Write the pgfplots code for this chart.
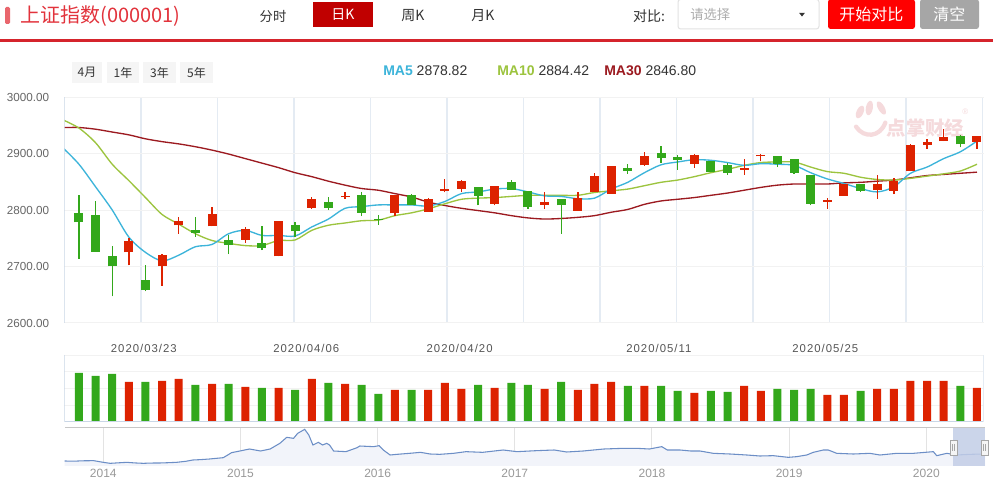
\documentclass[border=0pt]{standalone}
\usepackage{pgfplots}
\pgfplotsset{compat=1.18}
\usepackage{pgfplotstable}
\usepackage{fontspec}
\setmainfont{Liberation Sans}
\newfontfamily\cjk{Noto Sans CJK SC}
\newfontfamily\spaced[LetterSpace=9]{Liberation Sans}
\definecolor{kred}{HTML}{DD2200}
\definecolor{kgreen}{HTML}{33A81B}
\definecolor{maA}{HTML}{3CB4DA}
\definecolor{maB}{HTML}{9CC43E}
\definecolor{maC}{HTML}{9C1A20}
\definecolor{axblue}{HTML}{C9D6E6}
\definecolor{vgrid}{HTML}{E4EBF3}
\definecolor{hgrid}{HTML}{F2F2F2}
\definecolor{navline}{HTML}{6C8EC6}
\definecolor{navfill}{HTML}{F2F4FA}
\definecolor{navsel}{HTML}{C3CEE7}
\definecolor{titlered}{HTML}{E2333C}
\definecolor{linered}{HTML}{D5242C}
\definecolor{darkbtn}{HTML}{C00000}
\definecolor{brightbtn}{HTML}{FF0000}
\definecolor{graybtn}{HTML}{A6A6A6}
\definecolor{wm}{HTML}{F5DADC}
\definecolor{txt}{HTML}{333333}
\definecolor{gsix}{HTML}{666666}
\definecolor{gfive}{HTML}{555555}
\definecolor{gnine}{HTML}{999999}
\definecolor{gridgray}{HTML}{E3E3E3}

\pgfplotsset{candle/.style={draw=none, mark=none,
  error bars/y dir=plus, error bars/y explicit, error bars/error mark=none}}

% candles: i bodylow bodyhigh low high
\pgfplotstableread{
i lo hi low high
0 2778 2794 2714 2826
1 2726 2791 2726 2816
2 2700 2719 2647 2736
4 2658 2676 2656 2703
7 2760 2765 2753 2788
9 2738 2747 2722 2756
11 2732 2741 2729 2772
13 2762 2774 2753 2779
15 2804 2814 2800 2823
17 2795 2826 2789 2831
18 2782 2784 2774 2791
20 2809 2826 2809 2828
24 2825 2840 2808 2840
26 2836 2849 2836 2853
27 2806 2834 2802 2834
29 2808 2819 2758 2819
33 2869 2875 2864 2881
35 2892 2901 2884 2913
36 2889 2894 2871 2897
38 2868 2886 2868 2886
39 2866 2879 2862 2884
42 2881 2895 2876 2895
43 2866 2890 2864 2890
44 2811 2862 2808 2862
47 2834 2846 2832 2846
53 2916 2931 2911 2932
}\greenk
\pgfplotstableread{
i lo hi low high
3 2725 2745 2702 2750
5 2700 2721 2666 2722
6 2773 2781 2758 2788
8 2771 2793 2771 2805
10 2747 2766 2742 2770
12 2718 2781 2718 2781
14 2804 2819 2802 2823
16 2823 2825 2820 2831
19 2794 2826 2789 2826
21 2797 2819 2797 2822
22 2834 2837 2831 2855
23 2838 2851 2832 2853
25 2811 2842 2808 2842
28 2809 2814 2802 2831
30 2799 2821 2799 2831
31 2831 2860 2831 2865
32 2829 2878 2829 2878
34 2879 2895 2878 2902
37 2882 2897 2875 2899
40 2871 2874 2862 2890
41 2895 2897 2886 2899
45 2815 2818 2802 2822
46 2825 2846 2825 2846
48 2835 2846 2820 2862
49 2834 2852 2828 2856
50 2869 2915 2869 2916
51 2915 2920 2908 2925
52 2922 2929 2922 2943
54 2921 2931 2908 2931
}\redk
% volumes
\pgfplotstableread{
i v
0 147
1 138
2 144
4 120
7 111
9 114
11 102
13 96
15 117
17 111
18 84
20 96
24 111
26 117
27 111
29 120
33 108
35 108
36 93
38 93
39 90
42 99
43 96
44 99
47 93
53 108
}\greenv
\pgfplotstableread{
i v
3 120
5 123
6 129
8 114
10 105
12 102
14 129
16 114
19 96
21 96
22 117
23 99
25 102
28 99
30 96
31 114
32 120
34 108
37 87
40 108
41 93
45 81
46 81
48 99
49 99
50 123
51 123
52 123
54 102
}\redv
% navigator (year, index level)
\pgfplotstableread{
t v
2013.718 2231
2013.790 2215
2013.849 2250
2013.930 2262
2014.000 2106
2014.050 2013
2014.110 2060
2014.171 2106
2014.230 2050
2014.292 2013
2014.350 2040
2014.412 2044
2014.470 2070
2014.533 2106
2014.600 2200
2014.653 2325
2014.710 2360
2014.774 2418
2014.875 2543
2014.935 3011
2014.995 3167
2015.066 3354
2015.146 3167
2015.216 3354
2015.287 3885
2015.337 4446
2015.387 4353
2015.417 4821
2015.468 5195
2015.498 4665
2015.528 3729
2015.568 3978
2015.598 3729
2015.629 3885
2015.649 3729
2015.679 3167
2015.769 3105
2015.850 3479
2015.870 3635
2015.970 3573
2016.011 3666
2016.041 3261
2016.091 2793
2016.141 2855
2016.232 2949
2016.312 3042
2016.383 2886
2016.453 2855
2016.553 2949
2016.644 3105
2016.765 3042
2016.915 3261
2017.016 3105
2017.157 3198
2017.287 3261
2017.378 3074
2017.498 3167
2017.649 3354
2017.790 3417
2017.890 3417
2017.981 3354
2018.071 3573
2018.112 3261
2018.204 3261
2018.283 3167
2018.350 3167
2018.447 2949
2018.569 2886
2018.691 2793
2018.787 2699
2018.884 2730
2018.994 2574
2019.055 2637
2019.128 2793
2019.176 3042
2019.249 3261
2019.285 3261
2019.347 2949
2019.468 2886
2019.589 2949
2019.662 2793
2019.784 2949
2019.905 2949
2020.051 3105
2020.076 2730
2020.149 2949
2020.221 2793
2020.318 2855
2020.415 2886
2020.428 2900
}\navdata

\begin{document}
\begin{tikzpicture}
\useasboundingbox (0,0) rectangle (744.75pt,-363pt);
\fill[white] (0,0) rectangle (744.75pt,-363pt);

% ---------- header ----------
\fill[titlered!75, rounded corners=1pt] (3.75pt,-5.25pt) rectangle (7.5pt,-18pt);
\node[anchor=west, inner sep=0pt, text=titlered] at (15pt,-12pt) {\cjk\fontsize{15}{18}\selectfont 上证指数(000001)};
\node[inner sep=0pt, text=txt] at (204.75pt,-12pt) {\cjk\fontsize{10}{12}\selectfont 分时};
\fill[darkbtn] (234.75pt,-1.5pt) rectangle (279.75pt,-20.25pt);
\node[inner sep=0pt, text=white] at (257.25pt,-11pt) {\cjk\fontsize{10.5}{12}\selectfont 日K};
\node[inner sep=0pt, text=txt] at (309.75pt,-12pt) {\cjk\fontsize{10.5}{12}\selectfont 周K};
\node[inner sep=0pt, text=txt] at (362.25pt,-12pt) {\cjk\fontsize{10.5}{12}\selectfont 月K};
\node[inner sep=0pt, text=txt] at (486.75pt,-12pt) {\cjk\fontsize{10.5}{12}\selectfont 对比:};
\draw[gridgray!80!black!40, line width=0.75pt, rounded corners=2pt, fill=white] (508.5pt,0.5pt) rectangle (614.25pt,-21.75pt);
\node[anchor=west, inner sep=0pt, text=gnine!80] at (517.5pt,-11pt) {\cjk\fontsize{10}{12}\selectfont 请选择};
\fill[txt] (599.3pt,-9.6pt) -- (603.7pt,-9.6pt) -- (601.5pt,-12.4pt) -- cycle;
\fill[brightbtn, rounded corners=2pt] (621pt,0.5pt) rectangle (686.25pt,-21.75pt);
\node[inner sep=0pt, text=white] at (653.6pt,-11pt) {\cjk\fontsize{12}{14}\selectfont 开始对比};
\fill[graybtn, rounded corners=2pt] (690pt,0.5pt) rectangle (734.25pt,-21.75pt);
\node[inner sep=0pt, text=white] at (712.1pt,-11pt) {\cjk\fontsize{12}{14}\selectfont 清空};
\draw[linered, line width=2.25pt] (0pt,-30.4pt) -- (744.75pt,-30.4pt);

% ---------- range buttons and MA legend ----------
\fill[gray!8] (54pt,-46.5pt) rectangle (76.5pt,-62.25pt);
\fill[gray!8] (80.25pt,-46.5pt) rectangle (104.25pt,-62.25pt);
\fill[gray!8] (107.25pt,-46.5pt) rectangle (132pt,-62.25pt);
\fill[gray!8] (135pt,-46.5pt) rectangle (159.75pt,-62.25pt);
\node[inner sep=0pt, text=txt] at (65.25pt,-54.4pt) {\cjk\fontsize{9}{10}\selectfont 4月};
\node[inner sep=0pt, text=txt] at (92.25pt,-54.4pt) {\cjk\fontsize{9}{10}\selectfont 1年};
\node[inner sep=0pt, text=txt] at (119.6pt,-54.4pt) {\cjk\fontsize{9}{10}\selectfont 3年};
\node[inner sep=0pt, text=txt] at (147.4pt,-54.4pt) {\cjk\fontsize{9}{10}\selectfont 5年};
\node[anchor=west, inner sep=0pt, text=txt] at (287.25pt,-53.25pt) {\fontsize{10.5}{12}\selectfont\textbf{\color{maA}MA5} 2878.82};
\node[anchor=west, inner sep=0pt, text=txt] at (372.75pt,-53.25pt) {\fontsize{10.5}{12}\selectfont\textbf{\color{maB}MA10} 2884.42};
\node[anchor=west, inner sep=0pt, text=txt] at (453pt,-53.25pt) {\fontsize{10.5}{12}\selectfont\textbf{\color{maC}MA30} 2846.80};

% ---------- watermark ----------
\begin{scope}[wm]
\fill[rotate around={-25:(645pt,-84pt)}] (645pt,-84pt) ellipse (2.6pt and 5pt);
\fill[rotate around={-10:(652pt,-81pt)}] (652pt,-81pt) ellipse (2.6pt and 5.5pt);
\fill[rotate around={30:(661pt,-81pt)}] (661pt,-81pt) ellipse (2.4pt and 5.5pt);
\draw[line width=3.2pt, line cap=round] (642pt,-95pt) .. controls (648pt,-104pt) and (660pt,-103pt) .. (664pt,-92pt);
\node[inner sep=0pt, text=wm] at (694pt,-96pt) {\cjk\bfseries\fontsize{14.5}{16}\selectfont 点掌财经};
\node[inner sep=0pt, text=wm] at (724pt,-84pt) {\fontsize{6}{7}\selectfont\textregistered};
\end{scope}

% ---------- main candlestick chart ----------
\begin{axis}[
  at={(48.375pt,-242.25pt)}, anchor=south west,
  scale only axis, width=689.6pt, height=169.5pt,
  xmin=-0.87, xmax=54.42, ymin=2600, ymax=3000,
  axis line style={draw=none},
  xtick={3.73,8.33,12.93,17.53,22.13,26.73,31.33,35.93,40.53,45.13,49.73,54.33},
  xticklabels={},
  ytick={2600,2700,2800,2900,3000},
  xmajorgrids, ymajorgrids,
  x grid style={vgrid, line width=1pt},
  y grid style={hgrid, line width=0.75pt},
  major tick length=0pt,
  /pgf/number format/assume math mode=true,
  yticklabel={\pgfmathprintnumber[fixed,fixed zerofill,precision=2,1000 sep={}]{\tick}},
  yticklabel style={anchor=east, xshift=-8pt, font=\fontsize{8.75}{10}\selectfont, text=gsix},
]
\addplot[maC, line width=1pt, smooth] coordinates {
(-1,2946)(0,2946)(1,2943)(2,2938)(3,2933)(4,2926)(5,2921)(6,2917)(7,2912)(8,2906)(9,2899)(10,2891)(11,2883)(12,2875)(13,2866)(14,2859)(15,2851)(16,2844)(17,2838)(18,2835)(19,2829)(20,2823)(21,2814)(22,2808)(23,2803)(24,2799)(25,2795)(26,2790)(27,2786)(28,2784)(29,2785)(30,2787)(31,2790)(32,2796)(33,2801)(34,2810)(35,2816)(36,2819)(37,2822)(38,2826)(39,2830)(40,2835)(41,2840)(42,2844)(43,2846)(44,2846)(45,2846)(46,2848)(47,2849)(48,2851)(49,2853)(50,2857)(51,2861)(52,2863)(53,2865)(54,2867)};
\addplot[maB, line width=1pt, smooth] coordinates {
(-1,2960)(0,2945)(1,2919)(2,2881)(3,2852)(4,2822)(5,2792)(6,2775)(7,2758)(8,2746)(9,2741)(10,2737)(11,2737)(12,2746)(13,2747)(14,2764)(15,2773)(16,2777)(17,2781)(18,2782)(19,2790)(20,2795)(21,2802)(22,2811)(23,2819)(24,2821)(25,2822)(26,2824)(27,2826)(28,2826)(29,2826)(30,2826)(31,2831)(32,2834)(33,2837)(34,2843)(35,2849)(36,2853)(37,2859)(38,2866)(39,2872)(40,2879)(41,2884)(42,2885)(43,2885)(44,2876)(45,2868)(46,2865)(47,2858)(48,2854)(49,2853)(50,2856)(51,2860)(52,2864)(53,2869)(54,2881)};
\addplot[maA, line width=1pt, smooth] coordinates {
(-1,2911)(0,2881)(1,2841)(2,2800)(3,2752)(4,2725)(5,2710)(6,2720)(7,2735)(8,2739)(9,2758)(10,2764)(11,2755)(12,2755)(13,2754)(14,2770)(15,2784)(16,2803)(17,2806)(18,2809)(19,2809)(20,2809)(21,2807)(22,2815)(23,2829)(24,2832)(25,2837)(26,2838)(27,2832)(28,2825)(29,2824)(30,2820)(31,2821)(32,2837)(33,2849)(34,2866)(35,2880)(36,2885)(37,2889)(38,2888)(39,2884)(40,2879)(41,2882)(42,2881)(43,2879)(44,2866)(45,2855)(46,2847)(47,2838)(48,2832)(49,2841)(50,2865)(51,2876)(52,2891)(53,2903)(54,2922)};
% wicks
\addplot[candle, error bars/error bar style={draw=kgreen, line width=1pt}]
  table[x=i, y=low, y error expr=\thisrow{high}-\thisrow{low}] {\greenk};
\addplot[candle, error bars/error bar style={draw=kred, line width=1pt}]
  table[x=i, y=low, y error expr=\thisrow{high}-\thisrow{low}] {\redk};
% bodies
\addplot[candle, error bars/error bar style={draw=kgreen, line width=6.75pt}]
  table[x=i, y=lo, y error expr=\thisrow{hi}-\thisrow{lo}] {\greenk};
\addplot[candle, error bars/error bar style={draw=kred, line width=6.75pt}]
  table[x=i, y=lo, y error expr=\thisrow{hi}-\thisrow{lo}] {\redk};
\draw[axblue, line width=0.9pt] (rel axis cs:0,0) -- (rel axis cs:0,1);
\end{axis}

% ---------- volume ----------
\begin{axis}[
  at={(48.375pt,-316.5pt)}, anchor=south west,
  scale only axis, width=689.6pt, height=50.25pt,
  xmin=-0.87, xmax=54.42, ymin=0, ymax=201,
  axis line style={draw=none},
  xtick={3.90,13.67,22.89,34.87,44.88},
  xticklabels={2020/03/23,2020/04/06,2020/04/20,2020/05/11,2020/05/25},
  xticklabel pos=right,
  xticklabel style={anchor=south, yshift=-1.5pt, font=\spaced\fontsize{8.5}{10}\selectfont, text=gfive},
  ytick={50,100,150,200}, yticklabels={},
  ymajorgrids, y grid style={hgrid, line width=0.75pt},
  major tick length=0pt,
]
\addplot[ybar, bar width=6pt, bar shift=0pt, fill=kgreen, draw=none] table[x=i, y=v] {\greenv};
\addplot[ybar, bar width=6pt, bar shift=0pt, fill=kred, draw=none] table[x=i, y=v] {\redv};
\draw[axblue, line width=0.9pt] (rel axis cs:0,1) -- (rel axis cs:0,0) -- (rel axis cs:1,0);
\draw[vgrid, line width=0.9pt] (rel axis cs:1,0) -- (rel axis cs:1,1);
\end{axis}

% ---------- navigator ----------
\begin{axis}[
  at={(48.375pt,-349.5pt)}, anchor=south west,
  scale only axis, width=690.4pt, height=29.25pt,
  xmin=2013.717, xmax=2020.428, ymin=1763, ymax=5414,
  axis line style={draw=none},
  xtick={2014,2015,2016,2017,2018,2019,2020},
  xticklabels={2014,2015,2016,2017,2018,2019,2020},
  xmajorgrids, x grid style={gridgray, line width=0.75pt},
  ytick=\empty,
  major tick length=0pt,
  xticklabel style={font=\fontsize{9}{10}\selectfont, text=gnine, yshift=1pt},
]
\addplot[draw=none, fill=navfill] table[x=t, y=v] {\navdata} \closedcycle;
\addplot[navline, line width=0.8pt] table[x=t, y=v] {\navdata};
\fill[navsel, opacity=0.85] (axis cs:2020.197,1763) rectangle (axis cs:2020.428,5414);
\draw[gray!45, line width=0.9pt] (rel axis cs:0,1) -- (rel axis cs:1,1);
\end{axis}
% navigator handles
\foreach \hx in {712.5pt,735.75pt}{
  \draw[gray!70, fill=gray!8, line width=0.6pt] (\hx,-330pt) rectangle ++(5.25pt,-11.25pt);
  \draw[gray!70, line width=0.5pt] ([xshift=2pt]\hx,-333pt) -- ++(0,-5.25pt);
  \draw[gray!70, line width=0.5pt] ([xshift=3.3pt]\hx,-333pt) -- ++(0,-5.25pt);
}
\end{tikzpicture}
\end{document}
